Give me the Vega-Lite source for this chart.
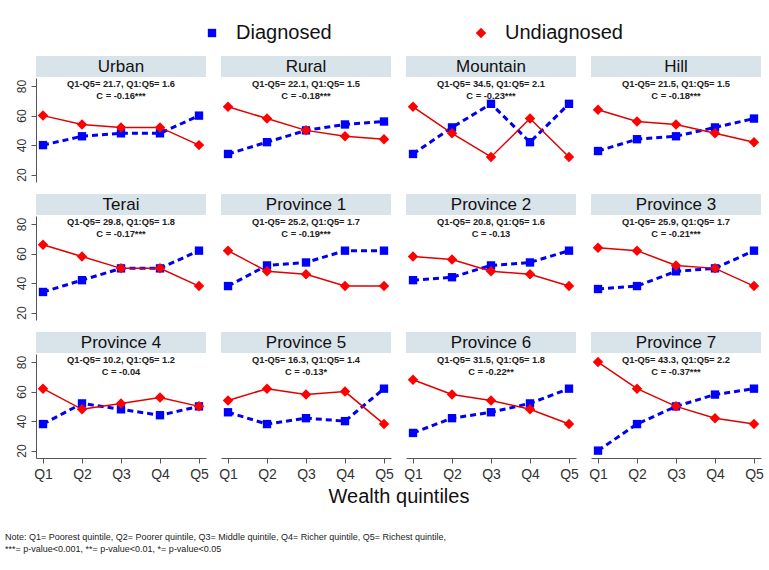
{
  "$schema": "https://vega.github.io/schema/vega-lite/v6.json",
  "padding": {"left": 5, "top": 23, "right": 5, "bottom": 5},
  "background": "white",
  "config": {
    "view": {"stroke": null},
    "font": "Liberation Sans",
    "axis": {"domainColor": "#555", "tickColor": "#555", "labelColor": "#333", "grid": false, "tickSize": 5},
    "legend": {"orient": "none", "legendX": 166, "legendY": -33, "direction": "horizontal", "columns": 2, "columnPadding": 139, "labelFontSize": 20, "labelFont": "Liberation Sans", "labelColor": "#111", "symbolSize": 200, "labelOffset": 14, "symbolStrokeWidth": 0}
  },
  "datasets": {
    "panels": [
      {"p": "Urban", "r": 1, "l1": "Q1-Q5= 21.7, Q1:Q5= 1.6", "l2": "C = -0.16***"},
      {"p": "Rural", "r": 1, "l1": "Q1-Q5= 22.1, Q1:Q5= 1.5", "l2": "C = -0.18***"},
      {"p": "Mountain", "r": 1, "l1": "Q1-Q5= 34.5, Q1:Q5= 2.1", "l2": "C = -0.23***"},
      {"p": "Hill", "r": 1, "l1": "Q1-Q5= 21.5, Q1:Q5= 1.5", "l2": "C = -0.18***"},
      {"p": "Terai", "r": 2, "l1": "Q1-Q5= 29.8, Q1:Q5= 1.8", "l2": "C = -0.17***"},
      {"p": "Province 1", "r": 2, "l1": "Q1-Q5= 25.2, Q1:Q5= 1.7", "l2": "C = -0.19***"},
      {"p": "Province 2", "r": 2, "l1": "Q1-Q5= 20.8, Q1:Q5= 1.6", "l2": "C = -0.13"},
      {"p": "Province 3", "r": 2, "l1": "Q1-Q5= 25.9, Q1:Q5= 1.7", "l2": "C = -0.21***"},
      {"p": "Province 4", "r": 3, "l1": "Q1-Q5= 10.2, Q1:Q5= 1.2", "l2": "C = -0.04"},
      {"p": "Province 5", "r": 3, "l1": "Q1-Q5= 16.3, Q1:Q5= 1.4", "l2": "C = -0.13*"},
      {"p": "Province 6", "r": 3, "l1": "Q1-Q5= 31.5, Q1:Q5= 1.8", "l2": "C = -0.22**"},
      {"p": "Province 7", "r": 3, "l1": "Q1-Q5= 43.3, Q1:Q5= 2.2", "l2": "C = -0.37***"}
    ],
    "pts": [
      {"p": "Urban", "r": 1, "q": "Q1", "Diagnosed": 40, "Undiagnosed": 60},
      {"p": "Urban", "r": 1, "q": "Q2", "Diagnosed": 46, "Undiagnosed": 54},
      {"p": "Urban", "r": 1, "q": "Q3", "Diagnosed": 48, "Undiagnosed": 52},
      {"p": "Urban", "r": 1, "q": "Q4", "Diagnosed": 48, "Undiagnosed": 52},
      {"p": "Urban", "r": 1, "q": "Q5", "Diagnosed": 60, "Undiagnosed": 40},
      {"p": "Rural", "r": 1, "q": "Q1", "Diagnosed": 34, "Undiagnosed": 66},
      {"p": "Rural", "r": 1, "q": "Q2", "Diagnosed": 42, "Undiagnosed": 58},
      {"p": "Rural", "r": 1, "q": "Q3", "Diagnosed": 50, "Undiagnosed": 50},
      {"p": "Rural", "r": 1, "q": "Q4", "Diagnosed": 54, "Undiagnosed": 46},
      {"p": "Rural", "r": 1, "q": "Q5", "Diagnosed": 56, "Undiagnosed": 44},
      {"p": "Mountain", "r": 1, "q": "Q1", "Diagnosed": 34, "Undiagnosed": 66},
      {"p": "Mountain", "r": 1, "q": "Q2", "Diagnosed": 52, "Undiagnosed": 48},
      {"p": "Mountain", "r": 1, "q": "Q3", "Diagnosed": 68, "Undiagnosed": 32},
      {"p": "Mountain", "r": 1, "q": "Q4", "Diagnosed": 42, "Undiagnosed": 58},
      {"p": "Mountain", "r": 1, "q": "Q5", "Diagnosed": 68, "Undiagnosed": 32},
      {"p": "Hill", "r": 1, "q": "Q1", "Diagnosed": 36, "Undiagnosed": 64},
      {"p": "Hill", "r": 1, "q": "Q2", "Diagnosed": 44, "Undiagnosed": 56},
      {"p": "Hill", "r": 1, "q": "Q3", "Diagnosed": 46, "Undiagnosed": 54},
      {"p": "Hill", "r": 1, "q": "Q4", "Diagnosed": 52, "Undiagnosed": 48},
      {"p": "Hill", "r": 1, "q": "Q5", "Diagnosed": 58, "Undiagnosed": 42},
      {"p": "Terai", "r": 2, "q": "Q1", "Diagnosed": 34, "Undiagnosed": 66},
      {"p": "Terai", "r": 2, "q": "Q2", "Diagnosed": 42, "Undiagnosed": 58},
      {"p": "Terai", "r": 2, "q": "Q3", "Diagnosed": 50, "Undiagnosed": 50},
      {"p": "Terai", "r": 2, "q": "Q4", "Diagnosed": 50, "Undiagnosed": 50},
      {"p": "Terai", "r": 2, "q": "Q5", "Diagnosed": 62, "Undiagnosed": 38},
      {"p": "Province 1", "r": 2, "q": "Q1", "Diagnosed": 38, "Undiagnosed": 62},
      {"p": "Province 1", "r": 2, "q": "Q2", "Diagnosed": 52, "Undiagnosed": 48},
      {"p": "Province 1", "r": 2, "q": "Q3", "Diagnosed": 54, "Undiagnosed": 46},
      {"p": "Province 1", "r": 2, "q": "Q4", "Diagnosed": 62, "Undiagnosed": 38},
      {"p": "Province 1", "r": 2, "q": "Q5", "Diagnosed": 62, "Undiagnosed": 38},
      {"p": "Province 2", "r": 2, "q": "Q1", "Diagnosed": 42, "Undiagnosed": 58},
      {"p": "Province 2", "r": 2, "q": "Q2", "Diagnosed": 44, "Undiagnosed": 56},
      {"p": "Province 2", "r": 2, "q": "Q3", "Diagnosed": 52, "Undiagnosed": 48},
      {"p": "Province 2", "r": 2, "q": "Q4", "Diagnosed": 54, "Undiagnosed": 46},
      {"p": "Province 2", "r": 2, "q": "Q5", "Diagnosed": 62, "Undiagnosed": 38},
      {"p": "Province 3", "r": 2, "q": "Q1", "Diagnosed": 36, "Undiagnosed": 64},
      {"p": "Province 3", "r": 2, "q": "Q2", "Diagnosed": 38, "Undiagnosed": 62},
      {"p": "Province 3", "r": 2, "q": "Q3", "Diagnosed": 48, "Undiagnosed": 52},
      {"p": "Province 3", "r": 2, "q": "Q4", "Diagnosed": 50, "Undiagnosed": 50},
      {"p": "Province 3", "r": 2, "q": "Q5", "Diagnosed": 62, "Undiagnosed": 38},
      {"p": "Province 4", "r": 3, "q": "Q1", "Diagnosed": 38, "Undiagnosed": 62},
      {"p": "Province 4", "r": 3, "q": "Q2", "Diagnosed": 52, "Undiagnosed": 48},
      {"p": "Province 4", "r": 3, "q": "Q3", "Diagnosed": 48, "Undiagnosed": 52},
      {"p": "Province 4", "r": 3, "q": "Q4", "Diagnosed": 44, "Undiagnosed": 56},
      {"p": "Province 4", "r": 3, "q": "Q5", "Diagnosed": 50, "Undiagnosed": 50},
      {"p": "Province 5", "r": 3, "q": "Q1", "Diagnosed": 46, "Undiagnosed": 54},
      {"p": "Province 5", "r": 3, "q": "Q2", "Diagnosed": 38, "Undiagnosed": 62},
      {"p": "Province 5", "r": 3, "q": "Q3", "Diagnosed": 42, "Undiagnosed": 58},
      {"p": "Province 5", "r": 3, "q": "Q4", "Diagnosed": 40, "Undiagnosed": 60},
      {"p": "Province 5", "r": 3, "q": "Q5", "Diagnosed": 62, "Undiagnosed": 38},
      {"p": "Province 6", "r": 3, "q": "Q1", "Diagnosed": 32, "Undiagnosed": 68},
      {"p": "Province 6", "r": 3, "q": "Q2", "Diagnosed": 42, "Undiagnosed": 58},
      {"p": "Province 6", "r": 3, "q": "Q3", "Diagnosed": 46, "Undiagnosed": 54},
      {"p": "Province 6", "r": 3, "q": "Q4", "Diagnosed": 52, "Undiagnosed": 48},
      {"p": "Province 6", "r": 3, "q": "Q5", "Diagnosed": 62, "Undiagnosed": 38},
      {"p": "Province 7", "r": 3, "q": "Q1", "Diagnosed": 20, "Undiagnosed": 80},
      {"p": "Province 7", "r": 3, "q": "Q2", "Diagnosed": 38, "Undiagnosed": 62},
      {"p": "Province 7", "r": 3, "q": "Q3", "Diagnosed": 50, "Undiagnosed": 50},
      {"p": "Province 7", "r": 3, "q": "Q4", "Diagnosed": 58, "Undiagnosed": 42},
      {"p": "Province 7", "r": 3, "q": "Q5", "Diagnosed": 62, "Undiagnosed": 38}
    ]
  },
  "title": {
    "text": ["Note: Q1= Poorest quintile, Q2= Poorer quintile, Q3= Middle quintile, Q4= Richer quintile, Q5= Richest quintile,", "***= p-value<0.001, **= p-value<0.01, *= p-value<0.05"],
    "orient": "bottom", "anchor": "start", "frame": "bounds", "dx": -10, "offset": 26,
    "font": "Liberation Sans", "fontSize": 9, "fontWeight": "normal", "color": "#222", "lineHeight": 12
  },
  "spacing": 12,
  "resolve": {"scale": {"x": "independent", "y": "independent"}},
  "vconcat": [
    {
      "spacing": 1,
      "resolve": {"scale": {"x": "independent", "y": "independent"}},
      "vconcat": [
        {
          "data": {"name": "panels"},
          "transform": [{"filter": "datum.r == 1"}],
          "width": 725, "height": 21,
          "encoding": {"x": {"field": "p", "type": "nominal", "sort": null, "axis": null, "scale": {"paddingInner": 0.0811, "paddingOuter": 0}}},
          "layer": [
            {"mark": {"type": "bar", "color": "#d9e3ea"}},
            {"mark": {"type": "text", "fontSize": 17, "color": "#111"}, "encoding": {"text": {"field": "p"}}}
          ]
        },
        {
          "data": {"name": "pts"},
          "transform": [
            {"filter": "datum.r == 1"},
            {"lookup": "p", "from": {"data": {"name": "panels"}, "key": "p", "fields": ["l1", "l2"]}},
            {"fold": ["Diagnosed", "Undiagnosed"], "as": ["g", "v"]}
          ],
          "facet": {"column": {"field": "p", "type": "nominal", "sort": ["Urban", "Rural", "Mountain", "Hill"], "header": {"labels": false, "title": null}}},
          "spacing": 15,
          "spec": {
            "width": 170, "height": 104,
            "encoding": {
              "x": {"field": "q", "type": "ordinal", "scale": {"type": "point", "padding": 0.18}, "axis": null},
              "y": {"field": "v", "type": "quantitative", "scale": {"domain": [15, 85.5], "nice": false, "zero": false}, "axis": {"values": [20, 40, 60, 80], "title": null, "labelAngle": -90, "labelFontSize": 12, "labelPadding": 3}}
            },
            "layer": [
              {"transform": [{"filter": "datum.g == 'Diagnosed'"}], "mark": {"type": "line", "color": "#0000ee", "strokeWidth": 3, "strokeDash": [6, 4]}},
              {"transform": [{"filter": "datum.g == 'Undiagnosed'"}], "mark": {"type": "line", "color": "#e00000", "strokeWidth": 1.5}},
              {"mark": {"type": "point", "filled": true, "opacity": 1}, "encoding": {
                "color": {"field": "g", "type": "nominal", "scale": {"domain": ["Diagnosed", "Undiagnosed"], "range": ["#0000ff", "#ff0000"]}, "legend": {"title": null}},
                "shape": {"field": "g", "type": "nominal", "scale": {"domain": ["Diagnosed", "Undiagnosed"], "range": ["square", "diamond"]}, "legend": {"title": null}},
                "size": {"field": "g", "type": "nominal", "scale": {"domain": ["Diagnosed", "Undiagnosed"], "range": [70, 110]}, "legend": null}
              }},
              {"transform": [{"filter": "datum.g == 'Diagnosed' && datum.q == 'Q3'"}], "mark": {"type": "text", "fontSize": 9.3, "fontWeight": "bold", "color": "#222"}, "encoding": {"y": {"datum": 81.4}, "text": {"field": "l1"}}},
              {"transform": [{"filter": "datum.g == 'Diagnosed' && datum.q == 'Q3'"}], "mark": {"type": "text", "fontSize": 9.3, "fontWeight": "bold", "color": "#222"}, "encoding": {"y": {"datum": 73.6}, "text": {"field": "l2"}}}
            ]
          }
        }
      ]
    },
    {
      "spacing": 1,
      "resolve": {"scale": {"x": "independent", "y": "independent"}},
      "vconcat": [
        {
          "data": {"name": "panels"},
          "transform": [{"filter": "datum.r == 2"}],
          "width": 725, "height": 21,
          "encoding": {"x": {"field": "p", "type": "nominal", "sort": null, "axis": null, "scale": {"paddingInner": 0.0811, "paddingOuter": 0}}},
          "layer": [
            {"mark": {"type": "bar", "color": "#d9e3ea"}},
            {"mark": {"type": "text", "fontSize": 17, "color": "#111"}, "encoding": {"text": {"field": "p"}}}
          ]
        },
        {
          "data": {"name": "pts"},
          "transform": [
            {"filter": "datum.r == 2"},
            {"lookup": "p", "from": {"data": {"name": "panels"}, "key": "p", "fields": ["l1", "l2"]}},
            {"fold": ["Diagnosed", "Undiagnosed"], "as": ["g", "v"]}
          ],
          "facet": {"column": {"field": "p", "type": "nominal", "sort": ["Terai", "Province 1", "Province 2", "Province 3"], "header": {"labels": false, "title": null}}},
          "spacing": 15,
          "spec": {
            "width": 170, "height": 104,
            "encoding": {
              "x": {"field": "q", "type": "ordinal", "scale": {"type": "point", "padding": 0.18}, "axis": null},
              "y": {"field": "v", "type": "quantitative", "scale": {"domain": [15, 85.5], "nice": false, "zero": false}, "axis": {"values": [20, 40, 60, 80], "title": null, "labelAngle": -90, "labelFontSize": 12, "labelPadding": 3}}
            },
            "layer": [
              {"transform": [{"filter": "datum.g == 'Diagnosed'"}], "mark": {"type": "line", "color": "#0000ee", "strokeWidth": 3, "strokeDash": [6, 4]}},
              {"transform": [{"filter": "datum.g == 'Undiagnosed'"}], "mark": {"type": "line", "color": "#e00000", "strokeWidth": 1.5}},
              {"mark": {"type": "point", "filled": true, "opacity": 1}, "encoding": {
                "color": {"field": "g", "type": "nominal", "scale": {"domain": ["Diagnosed", "Undiagnosed"], "range": ["#0000ff", "#ff0000"]}, "legend": {"title": null}},
                "shape": {"field": "g", "type": "nominal", "scale": {"domain": ["Diagnosed", "Undiagnosed"], "range": ["square", "diamond"]}, "legend": {"title": null}},
                "size": {"field": "g", "type": "nominal", "scale": {"domain": ["Diagnosed", "Undiagnosed"], "range": [70, 110]}, "legend": null}
              }},
              {"transform": [{"filter": "datum.g == 'Diagnosed' && datum.q == 'Q3'"}], "mark": {"type": "text", "fontSize": 9.3, "fontWeight": "bold", "color": "#222"}, "encoding": {"y": {"datum": 81.4}, "text": {"field": "l1"}}},
              {"transform": [{"filter": "datum.g == 'Diagnosed' && datum.q == 'Q3'"}], "mark": {"type": "text", "fontSize": 9.3, "fontWeight": "bold", "color": "#222"}, "encoding": {"y": {"datum": 73.6}, "text": {"field": "l2"}}}
            ]
          }
        }
      ]
    },
    {
      "spacing": 1,
      "resolve": {"scale": {"x": "independent", "y": "independent"}},
      "vconcat": [
        {
          "data": {"name": "panels"},
          "transform": [{"filter": "datum.r == 3"}],
          "width": 725, "height": 21,
          "encoding": {"x": {"field": "p", "type": "nominal", "sort": null, "axis": null, "scale": {"paddingInner": 0.0811, "paddingOuter": 0}}},
          "layer": [
            {"mark": {"type": "bar", "color": "#d9e3ea"}},
            {"mark": {"type": "text", "fontSize": 17, "color": "#111"}, "encoding": {"text": {"field": "p"}}}
          ]
        },
        {
          "data": {"name": "pts"},
          "transform": [
            {"filter": "datum.r == 3"},
            {"lookup": "p", "from": {"data": {"name": "panels"}, "key": "p", "fields": ["l1", "l2"]}},
            {"fold": ["Diagnosed", "Undiagnosed"], "as": ["g", "v"]}
          ],
          "facet": {"column": {"field": "p", "type": "nominal", "sort": ["Province 4", "Province 5", "Province 6", "Province 7"], "header": {"labels": false, "title": "Wealth quintiles", "titleOrient": "bottom", "titleFontSize": 20, "titleFontWeight": "normal", "titleColor": "#111", "titlePadding": -4}}},
          "spacing": 15,
          "spec": {
            "width": 170, "height": 104,
            "encoding": {
              "x": {"field": "q", "type": "ordinal", "scale": {"type": "point", "padding": 0.18}, "axis": {"title": null, "labelAngle": 0, "labelFontSize": 14, "labelPadding": 4}},
              "y": {"field": "v", "type": "quantitative", "scale": {"domain": [15, 85.5], "nice": false, "zero": false}, "axis": {"values": [20, 40, 60, 80], "title": null, "labelAngle": -90, "labelFontSize": 12, "labelPadding": 3}}
            },
            "layer": [
              {"transform": [{"filter": "datum.g == 'Diagnosed'"}], "mark": {"type": "line", "color": "#0000ee", "strokeWidth": 3, "strokeDash": [6, 4]}},
              {"transform": [{"filter": "datum.g == 'Undiagnosed'"}], "mark": {"type": "line", "color": "#e00000", "strokeWidth": 1.5}},
              {"mark": {"type": "point", "filled": true, "opacity": 1}, "encoding": {
                "color": {"field": "g", "type": "nominal", "scale": {"domain": ["Diagnosed", "Undiagnosed"], "range": ["#0000ff", "#ff0000"]}, "legend": {"title": null}},
                "shape": {"field": "g", "type": "nominal", "scale": {"domain": ["Diagnosed", "Undiagnosed"], "range": ["square", "diamond"]}, "legend": {"title": null}},
                "size": {"field": "g", "type": "nominal", "scale": {"domain": ["Diagnosed", "Undiagnosed"], "range": [70, 110]}, "legend": null}
              }},
              {"transform": [{"filter": "datum.g == 'Diagnosed' && datum.q == 'Q3'"}], "mark": {"type": "text", "fontSize": 9.3, "fontWeight": "bold", "color": "#222"}, "encoding": {"y": {"datum": 81.4}, "text": {"field": "l1"}}},
              {"transform": [{"filter": "datum.g == 'Diagnosed' && datum.q == 'Q3'"}], "mark": {"type": "text", "fontSize": 9.3, "fontWeight": "bold", "color": "#222"}, "encoding": {"y": {"datum": 73.6}, "text": {"field": "l2"}}}
            ]
          }
        }
      ]
    }
  ]
}
